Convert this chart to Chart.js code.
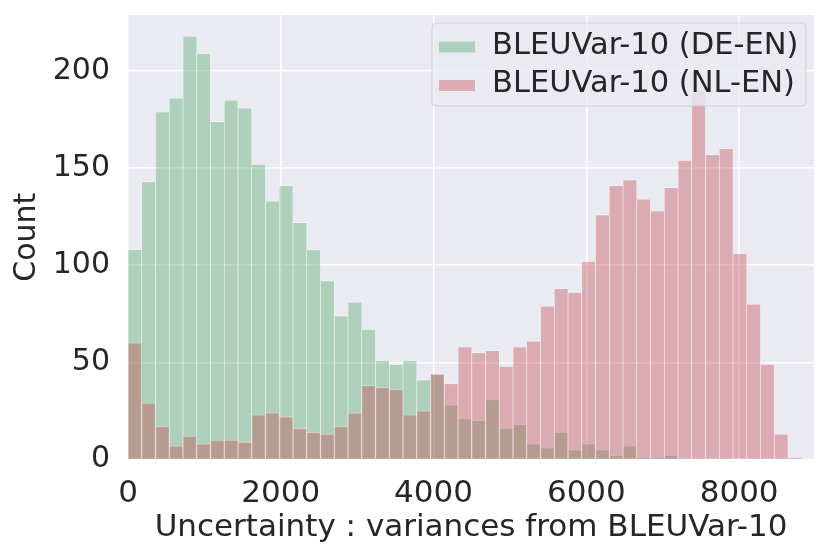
<!DOCTYPE html>
<html>
<head>
<meta charset="utf-8">
<script src="https://cdn.jsdelivr.net/npm/chart.js@4/dist/chart.umd.min.js"></script>
<style>
  html, body { margin: 0; padding: 0; background: #fff; }
  #wrap { width: 830px; height: 560px; position: relative; }
</style>
</head>
<body>
<div id="wrap"><canvas id="chart-hist"></canvas></div>
<script>
// bin centres (bin width 180)
var binCenters = [90, 270, 450, 630, 810, 990, 1170, 1350, 1530, 1710,
  1890, 2070, 2250, 2430, 2610, 2790, 2970, 3150, 3330, 3510,
  3690, 3870, 4050, 4230, 4410, 4590, 4770, 4950, 5130, 5310,
  5490, 5670, 5850, 6030, 6210, 6390, 6570, 6750, 6930, 7110,
  7290, 7470, 7650, 7830, 8010, 8190, 8370, 8550, 8730];

var deEnCounts = [108, 143, 179, 186, 218, 209, 174, 185, 181, 152,
  133, 141, 122, 108, 92, 74, 81, 67, 51, 49,
  51, 41, 44, 28, 21, 20, 31, 16, 18, 8,
  6, 14, 5, 8, 5, 2, 7, 1, 1, 2,
  0, 0, 0, 0, 0, 0, 0, 0, 0];

var nlEnCounts = [60, 29, 17, 7, 12, 8, 10, 10, 9, 23,
  24, 22, 16, 14, 13, 17, 24, 38, 37, 36,
  23, 25, 44, 39, 58, 55, 56, 48, 58, 61,
  79, 88, 86, 102, 126, 141, 144, 134, 128, 140,
  154, 190, 157, 160, 106, 80, 49, 13, 1];

var xTicks = [0, 2000, 4000, 6000, 8000];
var yTicks = [0, 50, 100, 150, 200];

var seriesLabels = ["BLEUVar-10 (DE-EN)", "BLEUVar-10 (NL-EN)"];
var xTitle = "Uncertainty : variances from BLEUVar-10";
var yTitle = "Count";

var textColor = "#262626";
var fontFamily = "'DejaVu Sans', sans-serif";

function toPoints(counts) {
  var pts = [];
  for (let i = 0; i < binCenters.length; i++) {
    pts.push({ x: binCenters[i], y: counts[i] });
  }
  return pts;
}

function fixedTicks(values) {
  return function (scale) {
    scale.ticks = values.map(function (v) {
      return { value: v };
    });
  };
}

// seaborn style grey panel behind the bars
var plotBackground = {
  id: "plotBackground",
  beforeDraw: function (chart) {
    var a = chart.chartArea;
    var ctx = chart.ctx;
    ctx.save();
    ctx.fillStyle = "#EAEAF2";
    ctx.fillRect(a.left, a.top, a.right - a.left, a.bottom - a.top);
    ctx.restore();
  },
};

// matplotlib-like legend box in the upper right corner
var boxLegend = {
  id: "boxLegend",
  afterDraw: function (chart) {
    var ctx = chart.ctx;
    var a = chart.chartArea;
    var w = 374;
    var h = 83;
    var x = a.right - 8 - w;
    var y = a.top + 8;
    ctx.save();
    ctx.beginPath();
    ctx.roundRect(x, y, w, h, 4);
    ctx.fillStyle = "rgba(234,234,242,0.8)";
    ctx.fill();
    ctx.lineWidth = 1;
    ctx.strokeStyle = "rgba(204,204,204,0.8)";
    ctx.stroke();

    ctx.font = "30.5px " + fontFamily;
    ctx.textBaseline = "alphabetic";
    ctx.textAlign = "left";
    chart.data.datasets.forEach(function (ds, i) {
      var rowY = y + 30.5 + i * 38.5;
      ctx.fillStyle = ds.backgroundColor;
      ctx.fillRect(x + 7, rowY - 12, 36, 11);
      ctx.fillStyle = textColor;
      ctx.fillText(ds.label, x + 60, rowY);
    });
    ctx.restore();
  },
};

var ctx = document.getElementById("chart-hist").getContext("2d");

new Chart(ctx, {
  type: "bar",
  data: {
    datasets: [
      {
        label: seriesLabels[0],
        data: toPoints(deEnCounts),
        backgroundColor: "rgba(85,168,104,0.4)",
        borderColor: "rgba(255,255,255,0.4)",
        borderWidth: { top: 0.8, left: 0.6, right: 0.6, bottom: 0 },
        barPercentage: 1,
        categoryPercentage: 1,
        grouped: false,
        order: 1,
      },
      {
        label: seriesLabels[1],
        data: toPoints(nlEnCounts),
        backgroundColor: "rgba(196,78,82,0.4)",
        borderColor: "rgba(255,255,255,0.4)",
        borderWidth: { top: 0.8, left: 0.6, right: 0.6, bottom: 0 },
        barPercentage: 1,
        categoryPercentage: 1,
        grouped: false,
        order: 0,
      },
    ],
  },
  options: {
    responsive: true,
    maintainAspectRatio: false,
    animation: false,
    layout: {
      padding: { top: 15, right: 16, left: 0, bottom: 0 },
    },
    plugins: {
      legend: { display: false },
      tooltip: { enabled: false },
    },
    scales: {
      x: {
        type: "linear",
        min: 0,
        max: 8980,
        offset: false,
        afterBuildTicks: fixedTicks(xTicks),
        afterFit: function (scale) {
          scale.height = 100.6;
          scale.paddingLeft = 0;
          scale.paddingRight = 0;
        },
        grid: {
          color: "#ffffff",
          lineWidth: 1.5,
          drawTicks: false,
          offset: false,
        },
        border: { display: false },
        ticks: {
          autoSkip: false,
          padding: 16,
          color: textColor,
          font: { size: 31, family: fontFamily },
          maxRotation: 0,
          callback: function (v) {
            return String(v);
          },
        },
        title: {
          display: true,
          text: xTitle,
          color: textColor,
          font: { size: 31, family: fontFamily },
          padding: { top: 0, bottom: 13 },
        },
      },
      y: {
        min: 0,
        max: 228.8,
        afterBuildTicks: fixedTicks(yTicks),
        afterFit: function (scale) {
          scale.width = 128;
          scale.paddingTop = 0;
          scale.paddingBottom = 0;
        },
        grid: {
          color: "#ffffff",
          lineWidth: 1.5,
          drawTicks: false,
        },
        border: { display: false },
        ticks: {
          autoSkip: false,
          padding: 18,
          color: textColor,
          font: { size: 30, family: fontFamily },
        },
        title: {
          display: true,
          text: yTitle,
          color: textColor,
          font: { size: 30, family: fontFamily },
          padding: { top: 9, bottom: 0 },
        },
      },
    },
  },
  plugins: [plotBackground, boxLegend],
});
</script>
</body>
</html>
